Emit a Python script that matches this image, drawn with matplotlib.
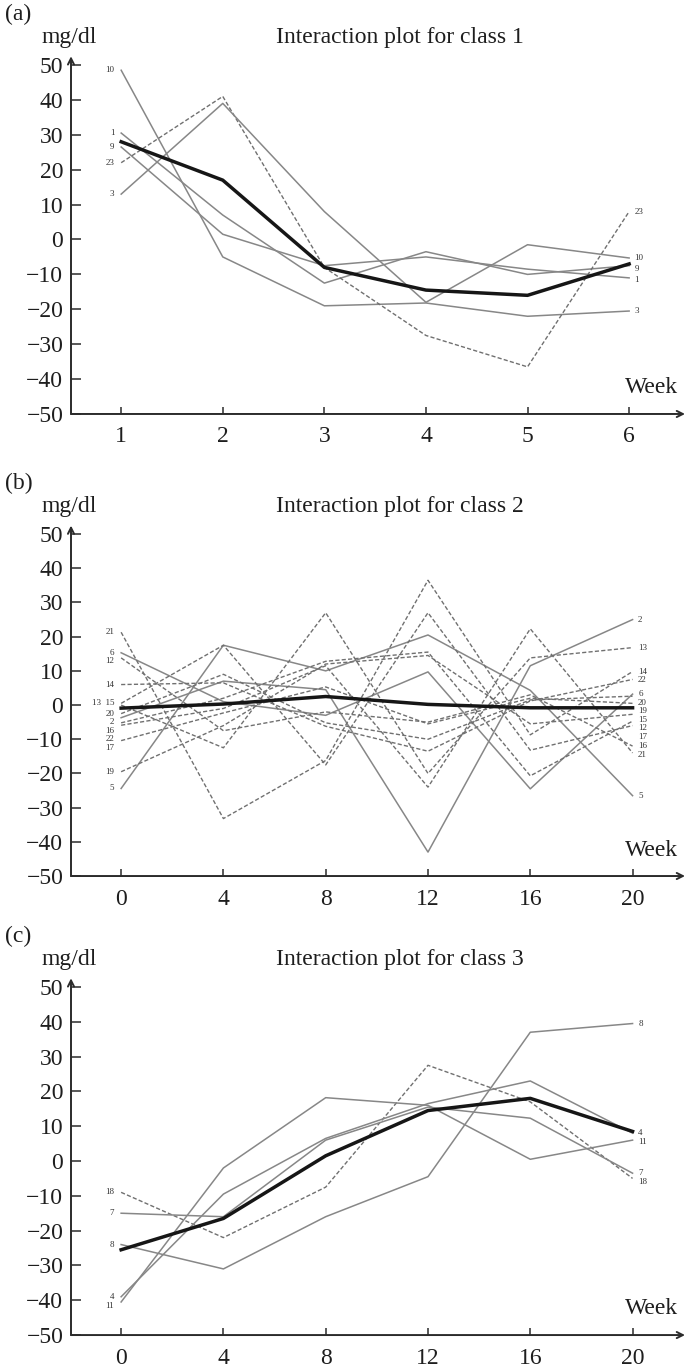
import numpy as np
import matplotlib.pyplot as plt

plt.rcParams["font.family"] = ["Liberation Serif", "DejaVu Serif"]

# class 1: weeks 1..6
WEEKS_1 = [1, 2, 3, 4, 5, 6]
CLASS1 = {
    "10": [48.5, -5.0, -19.0, -18.2, -22.0, -20.5],
    "1": [30.5, 7.0, -12.5, -3.5, -10.0, -7.5],
    "9": [26.5, 1.5, -7.5, -5.0, -8.5, -11.0],
    "23": [22.0, 41.0, -8.0, -27.5, -36.5, 8.0],
    "3": [13.0, 39.0, 8.0, -18.0, -1.5, -5.3],
}
CLASS1_DASHED = ["23"]
CLASS1_MEAN = [28.0, 17.0, -8.0, -14.5, -16.0, -7.0]
CLASS1_RIGHT = ["23", "10", "9", "1", "3"]

# class 2: weeks 0..20
WEEKS_2 = [0, 4, 8, 12, 16, 20]
CLASS2 = {
    "6": [15.3, 1.0, -3.0, 9.7, -24.5, 3.2],
    "2": [-3.7, 7.0, 4.5, -43.0, 11.5, 25.0],
    "5": [-24.4, 17.5, 10.0, 20.5, 4.3, -26.5],
    "21": [21.3, -33.2, -16.2, 36.5, -8.7, 9.8],
    "15": [0.5, 17.5, -17.5, 27.0, -13.2, -6.0],
    "13": [0.0, -12.5, 27.0, -20.0, 13.8, 16.8],
    "12": [13.8, -7.5, -2.0, -5.0, 3.0, -12.0],
    "14": [6.0, 6.5, -6.2, -13.5, 1.2, 7.5],
    "20": [-2.5, 9.0, -5.2, -10.0, 1.5, 2.6],
    "16": [-5.2, 2.0, 12.8, 15.5, -20.7, -4.7],
    "22": [-5.9, -1.0, 11.5, -24.0, 22.3, -14.0],
    "17": [-10.4, -2.3, 5.3, -5.5, 2.0, 0.5],
    "19": [-19.5, -6.0, 12.0, 14.5, -5.5, -2.7],
}
CLASS2_DASHED = ["21", "15", "13", "12", "14", "20", "16", "22", "17", "19"]
CLASS2_MEAN = [-0.9, 0.3, 2.5, 0.2, -0.8, -0.8]
CLASS2_RIGHT = ["2", "13", "14", "22", "6", "20", "19", "15", "12", "17", "16", "21", "5"]

# class 3: weeks 0..20
WEEKS_3 = [0, 4, 8, 12, 16, 20]
CLASS3 = {
    "18": [-9.0, -22.0, -7.5, 27.5, 17.0, -5.0],
    "7": [-15.0, -16.0, 6.0, 15.5, 12.3, -3.5],
    "8": [-24.0, -31.0, -16.0, -4.5, 37.0, 39.5],
    "4": [-39.0, -9.5, 6.5, 16.5, 23.0, 8.0],
    "11": [-40.5, -2.0, 18.2, 16.0, 0.5, 6.0],
}
CLASS3_DASHED = ["18"]
CLASS3_MEAN = [-25.5, -16.5, 1.5, 14.5, 18.0, 8.5]
CLASS3_RIGHT = ["8", "4", "11", "7", "18"]

Y_TICKS = list(range(-50, 51, 10))

W, H = 689, 1369
AX_COLOR = "#2b2b2b"
TEXT_COLOR = "#1e1e1e"
SOLID_COLOR = "#878787"
DASH_COLOR = "#707070"
BIG = 17
SMALL = 6.5


def stack_labels(values, names, gap, merge=0.0):
    """我把端点标签从上往下排开，避免重叠。"""
    rows = []
    for v, n in zip(values, names):
        if rows and rows[-1][2] - v < merge:
            rows[-1][1] = n + "  " + rows[-1][1]
            continue
        y = v if not rows else min(v, rows[-1][0] - gap)
        rows.append([y, n, v])
    return rows


def draw_panel(fig, rect, tag, title, weeks, lines, dashed, mean, right_ids,
               xlim, gap):
    ax = fig.add_axes(rect)
    ax.set_xlim(*xlim)
    ax.set_ylim(-50, 52.5)

    for name, vals in lines.items():
        if name in dashed:
            ax.plot(weeks, vals, color=DASH_COLOR, lw=1.0, dashes=(3, 1.6))
        else:
            ax.plot(weeks, vals, color=SOLID_COLOR, lw=1.1)
    ax.plot(weeks, mean, color="#161616", lw=2.5, zorder=5)

    for s in ax.spines.values():
        s.set_visible(False)
    arrow = dict(arrowstyle="->", color=AX_COLOR, lw=1.4,
                 shrinkA=0, shrinkB=0, mutation_scale=11)
    ax.annotate("", xy=(1, 0), xytext=(0, 0), xycoords="axes fraction",
                arrowprops=arrow)
    ax.annotate("", xy=(0, 1), xytext=(0, 0), xycoords="axes fraction",
                arrowprops=arrow)

    ax.set_xticks(weeks)
    ax.set_yticks(Y_TICKS)
    ax.tick_params(direction="in", width=1.1, color=AX_COLOR,
                   labelsize=BIG, labelcolor=TEXT_COLOR)
    ax.tick_params(axis="x", pad=9, length=5)
    ax.tick_params(axis="y", pad=5.5, length=7)

    ax.text(0.988, -42.5, "Week", transform=ax.get_yaxis_transform(),
            ha="right", va="center", fontsize=BIG, color=TEXT_COLOR)

    # 左端标签
    starts = sorted(((v[0], k) for k, v in lines.items()), reverse=True)
    rows = stack_labels([s[0] for s in starts], [s[1] for s in starts],
                        gap, merge=0.6)
    for y, txt, _ in rows:
        ax.annotate(txt, xy=(weeks[0], y), xytext=(-5, 0),
                    textcoords="offset points", ha="right", va="center",
                    fontsize=SMALL, color="#333333")

    # 右端标签，按端点高低对应
    ends = sorted((v[-1] for v in lines.values()), reverse=True)
    rows = stack_labels(ends, right_ids, gap)
    for y, txt, _ in rows:
        ax.annotate(txt, xy=(weeks[-1], y), xytext=(4, 0),
                    textcoords="offset points", ha="left", va="center",
                    fontsize=SMALL, color="#333333")

    top = rect[1] + rect[3]
    fig.text(5 / W, top + 42 / H, tag, ha="left", va="center",
             fontsize=BIG, color=TEXT_COLOR)
    fig.text(69.5 / W, top + 19 / H, "mg/dl", ha="center", va="center",
             fontsize=BIG, color=TEXT_COLOR)
    fig.text(400 / W, top + 19 / H, title, ha="center", va="center",
             fontsize=BIG, color=TEXT_COLOR)
    return ax


if __name__ == "__main__":

    fig = plt.figure(figsize=(W / 100, H / 100), dpi=100)

    left = 71 / W
    width = 614 / W

    panels = [
        ((left, 0.6976, width, 0.2613), "(a)", "Interaction plot for class 1",
         WEEKS_1, CLASS1, CLASS1_DASHED, CLASS1_MEAN, CLASS1_RIGHT,
         (0.506, 6.55), 3.2),
        ((left, 0.3601, width, 0.2560), "(b)", "Interaction plot for class 2",
         WEEKS_2, CLASS2, CLASS2_DASHED, CLASS2_MEAN, CLASS2_RIGHT,
         (-1.96, 22.05), 2.5),
        ((left, 0.0248, width, 0.2606), "(c)", "Interaction plot for class 3",
         WEEKS_3, CLASS3, CLASS3_DASHED, CLASS3_MEAN, CLASS3_RIGHT,
         (-1.96, 22.05), 2.6),
    ]

    for p in panels:
        draw_panel(fig, *p)

    fig.savefig("out.png", dpi=100)
    plt.close(fig)
